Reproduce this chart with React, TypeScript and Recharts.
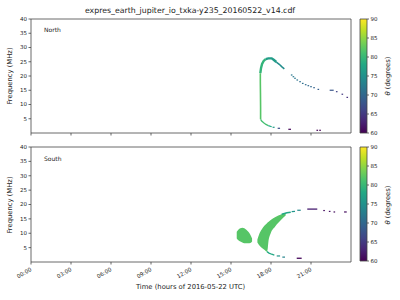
import { Area, Bar, BarChart, ComposedChart, Line, ReferenceArea, Scatter, XAxis, YAxis } from "recharts";

const HOUR_TICKS = [0, 3, 6, 9, 12, 15, 18, 21];
const HOUR_LABELS = ["00:00", "03:00", "06:00", "09:00", "12:00", "15:00", "18:00", "21:00"];
const FREQ_TICKS = [5, 10, 15, 20, 25, 30, 35, 40];
const THETA_TICKS = [60, 65, 70, 75, 80, 85, 90];

// [hour, MHz] traces, each with one theta (degrees)
const nVertical = [[17.22, 4.8], [17.22, 9], [17.21, 14], [17.2, 18], [17.2, 21]];
const nRise = [[17.2, 21], [17.25, 22.7], [17.33, 24.2], [17.45, 25.3], [17.6, 25.9]];
const nPeak = [[17.6, 25.9], [17.8, 26.2], [18.05, 26.2], [18.2, 25.7], [18.4, 24.9]];
const nFall = [[18.4, 24.9], [18.62, 24.1], [18.8, 23.3], [19.0, 22.5]];
const nLowerGreen = [[17.22, 4.8], [17.3, 4.2], [17.45, 3.6], [17.62, 3.0], [17.8, 2.6]];
const nLowerTeal = [[17.8, 2.6], [18.05, 2.2]];
const nDash1 = [[18.12, 2.0], [18.27, 2.0]];
const nDash2 = [[18.5, 1.65], [18.68, 1.65]];
const nDash3 = [[19.3, 1.3], [19.5, 1.3]];
const nDash4 = [[22.4, 15.0], [22.7, 15.0]];

// [hour, MHz, theta]
const nDots = [
  [19.55, 20.35, 72], [19.68, 19.75, 72], [19.8, 19.2, 72], [19.97, 18.6, 71.5],
  [20.18, 18.0, 71], [20.38, 17.4, 71], [20.6, 16.95, 70.5], [20.8, 16.6, 70],
  [21.0, 16.25, 70], [21.23, 15.9, 69.5], [21.55, 15.3, 69], [22.93, 14.5, 66],
  [23.35, 13.6, 65], [23.72, 12.5, 64], [21.47, 0.95, 60], [21.68, 0.95, 60],
];

// [hour, low MHz, high MHz]
const sBlobA = [
  [15.43, 8.2, 10.5], [15.55, 7.6, 11.2], [15.7, 7.1, 11.7], [15.85, 6.8, 11.9],
  [16.0, 6.5, 11.7], [16.15, 6.5, 11.2], [16.3, 6.5, 10.5], [16.45, 6.6, 9.5], [16.58, 7.1, 8.2],
];
const sBlobB = [
  [16.98, 6.8, 7.8], [17.1, 5.9, 9.5], [17.3, 5.0, 11.3], [17.5, 4.3, 12.6], [17.7, 3.6, 13.5],
  [17.75, 4.5, 13.7], [17.8, 6.8, 13.9], [17.98, 10.0, 14.6], [18.3, 12.3, 15.6],
  [18.8, 14.9, 16.6], [19.1, 16.2, 17.0],
];
const sArm = [[18.8, 16.6], [19.2, 17.1], [19.48, 17.3]];
const sArmDash1 = [[19.55, 17.5], [19.8, 17.6]];
const sArmDash2 = [[19.97, 18.0], [20.23, 18.0]];
const sArmDash3 = [[20.72, 18.4], [21.47, 18.4]];
const sArmDash4 = [[23.48, 17.4], [23.68, 17.4]];
const sTail = [[17.7, 3.6], [17.85, 3.1], [18.05, 2.7], [18.25, 2.4]];
const sTailDash1 = [[18.43, 2.1], [18.68, 2.1]];
const sTailDash2 = [[18.85, 1.7], [19.05, 1.7]];
const sTailDash3 = [[19.93, 1.3], [20.3, 1.3]];
const sDots = [[21.98, 17.9, 61], [22.4, 17.6, 61.5], [22.75, 17.4, 61]];

const VIRIDIS = ["#440154", "#482475", "#414487", "#355f8d", "#2a788e", "#21918c", "#22a884", "#44bf70", "#7ad151", "#bddf26", "#fde725"];

function viridis(theta: number): string {
  const t = Math.min(1, Math.max(0, (theta - 60) / 30)) * 10;
  const i = Math.min(9, Math.floor(t));
  const k = t - i;
  const a = VIRIDIS[i], b = VIRIDIS[i + 1];
  let out = "#";
  for (let c = 1; c < 7; c += 2) {
    const va = parseInt(a.slice(c, c + 2), 16);
    const vb = parseInt(b.slice(c, c + 2), 16);
    out += Math.round(va + (vb - va) * k).toString(16).padStart(2, "0");
  }
  return out;
}

const FONT = "'DejaVu Sans', sans-serif";
const INK = "#222";

type Trace = { pts: number[][]; theta: number; w: number };

const northTraces: Trace[] = [
  { pts: nVertical, theta: 82, w: 1.6 },
  { pts: nRise, theta: 79.5, w: 2.4 },
  { pts: nPeak, theta: 76.5, w: 2.4 },
  { pts: nFall, theta: 74.5, w: 1.5 },
  { pts: nLowerGreen, theta: 81, w: 1.3 },
  { pts: nLowerTeal, theta: 78, w: 1.2 },
  { pts: nDash1, theta: 76, w: 1.2 },
  { pts: nDash2, theta: 67, w: 1.2 },
  { pts: nDash3, theta: 60.5, w: 1.2 },
  { pts: nDash4, theta: 68, w: 1.2 },
];

const southTraces: Trace[] = [
  { pts: sArm, theta: 78, w: 1.5 },
  { pts: sArmDash1, theta: 75.5, w: 1.2 },
  { pts: sArmDash2, theta: 74, w: 1.2 },
  { pts: sArmDash3, theta: 62.5, w: 1.3 },
  { pts: sArmDash4, theta: 61, w: 1.2 },
  { pts: sTail, theta: 78, w: 1.3 },
  { pts: sTailDash1, theta: 75.5, w: 1.2 },
  { pts: sTailDash2, theta: 73.5, w: 1.2 },
  { pts: sTailDash3, theta: 60.5, w: 1.3 },
];

const southBlobs = [
  { rows: sBlobA, theta: 82 },
  { rows: sBlobB, theta: 82 },
];

function HourTick({ x, y, payload, show }: any) {
  if (!show) return <g />;
  const i = HOUR_TICKS.indexOf(payload.value);
  return (
    <text x={x + 1} y={y + 4} textAnchor="end" fontSize={5.5} fontFamily={FONT} fill={INK}
      transform={`rotate(-30 ${x + 1} ${y + 4})`}>
      {HOUR_LABELS[i]}
    </text>
  );
}

function DotShape(props: any) {
  const { cx, cy, payload } = props;
  return <rect x={cx - 0.8} y={cy - 0.6} width={1.6} height={1.2} fill={viridis(payload.th)} />;
}

function Panel({ top, height, plotTop, axisH, traces, dots, blobs, showLabels }: any) {
  return (
    <div style={{ position: "absolute", left: 0, top }}>
      <ComposedChart width={400} height={height} margin={{ top: plotTop, right: 49, bottom: 0, left: 0 }}>
        <XAxis type="number" dataKey="h" domain={[0, 24]} ticks={HOUR_TICKS} allowDataOverflow
          height={axisH} tickSize={2.5} axisLine={false} stroke="#444" tickLine={{ stroke: "#444", strokeWidth: 0.8 }}
          tick={<HourTick show={showLabels} />} interval={0} />
        <YAxis type="number" domain={[0, 40]} ticks={FREQ_TICKS} allowDataOverflow width={31}
          tickSize={2.5} tickMargin={1.5} axisLine={false} tickLine={{ stroke: "#444", strokeWidth: 0.8 }}
          tick={{ fontSize: 5.5, fill: INK, fontFamily: FONT }} interval={0} />
        {blobs.map((b: any, i: number) => (
          <Area key={`b${i}`} data={b.rows.map((r: number[]) => ({ h: r[0], r: [r[1], r[2]] }))}
            dataKey="r" type="monotone" stroke="none" fill={viridis(b.theta)} fillOpacity={1}
            isAnimationActive={false} dot={false} activeDot={false} />
        ))}
        {traces.map((t: Trace, i: number) => (
          <Line key={`t${i}`} data={t.pts.map((p) => ({ h: p[0], f: p[1] }))} dataKey="f"
            type="linear" stroke={viridis(t.theta)} strokeWidth={t.w} dot={false} activeDot={false}
            isAnimationActive={false} />
        ))}
        <Scatter data={dots.map((d: number[]) => ({ h: d[0], f: d[1], th: d[2] }))} dataKey="f"
          shape={DotShape} isAnimationActive={false} />
        <ReferenceArea x1={0} x2={24} y1={0} y2={40} fill="none" stroke="#444" strokeWidth={0.8} fillOpacity={0} />
      </ComposedChart>
    </div>
  );
}

function ColorBar({ top, height, plotTop, id }: any) {
  return (
    <div style={{ position: "absolute", left: 0, top }}>
      <BarChart width={400} height={height} data={[{ k: "theta", r: [60, 90] }]}
        margin={{ top: plotTop, right: 0, left: 360, bottom: height - plotTop - 114 }} barCategoryGap={0}>
        <defs>
          <linearGradient id={id} x1="0" y1="1" x2="0" y2="0">
            {VIRIDIS.map((c, i) => <stop key={c} offset={`${i * 10}%`} stopColor={c} />)}
          </linearGradient>
        </defs>
        <XAxis dataKey="k" hide height={0} />
        <YAxis orientation="right" type="number" domain={[60, 90]} ticks={THETA_TICKS} width={33}
          tickSize={2} tickMargin={1.5} axisLine={false} tickLine={{ stroke: "#444", strokeWidth: 0.8 }}
          tick={{ fontSize: 5.5, fill: INK, fontFamily: FONT }} interval={0} />
        <Bar dataKey="r" fill={`url(#${id})`} stroke="#444" strokeWidth={0.8} isAnimationActive={false} />
      </BarChart>
    </div>
  );
}

function Txt({ x, y, size, rotate, children, left }: any) {
  return (
    <div style={{
      position: "absolute", left: x, top: y, fontSize: size, fontFamily: FONT, color: INK,
      whiteSpace: "nowrap", lineHeight: 1,
      transform: left ? "translate(0,-50%)" : `translate(-50%,-50%)${rotate ? " rotate(-90deg)" : ""}`,
    }}>
      {children}
    </div>
  );
}

export default function App() {
  return (
    <div style={{ position: "absolute", left: 0, top: 0, width: 400, height: 300, background: "#fff", overflow: "hidden" }}>
      <Panel top={0} height={140} plotTop={19} axisH={7} traces={northTraces} dots={nDots} blobs={[]} showLabels={false} />
      <Panel top={140} height={160} plotTop={7} axisH={38} traces={southTraces} dots={sDots} blobs={southBlobs} showLabels />
      <ColorBar top={0} height={140} plotTop={19} id="vir1" />
      <ColorBar top={140} height={160} plotTop={7} id="vir2" />
      <Txt x={190} y={11} size={7.8}>expres_earth_jupiter_io_txka-y235_20160522_v14.cdf</Txt>
      <Txt x={44} y={29.5} size={6} left>North</Txt>
      <Txt x={44} y={158.5} size={6} left>South</Txt>
      <Txt x={10} y={76} size={6.8} rotate>Frequency (MHz)</Txt>
      <Txt x={10} y={204.5} size={6.8} rotate>Frequency (MHz)</Txt>
      <Txt x={190.5} y={287} size={6.8}>Time (hours of 2016-05-22 UTC)</Txt>
      <Txt x={387.5} y={76} size={6.8} rotate><i>θ</i> (degrees)</Txt>
      <Txt x={387.5} y={204.5} size={6.8} rotate><i>θ</i> (degrees)</Txt>
    </div>
  );
}
